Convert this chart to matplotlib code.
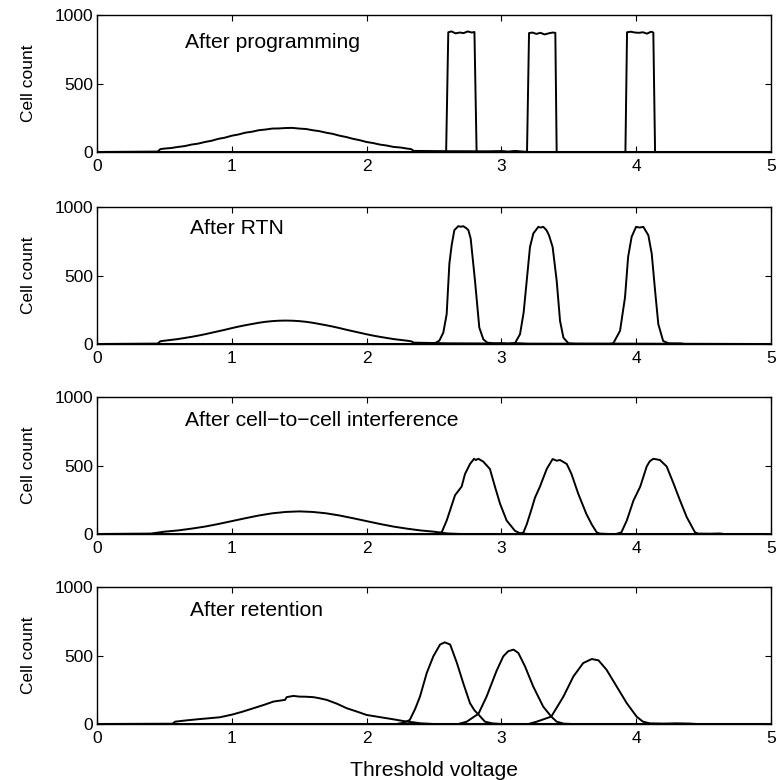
import matplotlib
matplotlib.use("Agg")
import matplotlib.pyplot as plt

plt.rcParams['font.family'] = ['Liberation Sans', 'DejaVu Sans']

# ---------------- data ----------------
titles = ["After programming", "After RTN", "After cell\u2212to\u2212cell interference", "After retention"]
xticks = [0, 1, 2, 3, 4, 5]
yticks = [0, 500, 1000]

# Panel 1: After programming
p1_s0_x = [0, 0.45, 0.47, 0.50, 0.55, 0.60, 0.65, 0.70, 0.75, 0.80, 0.85, 0.90, 0.95, 1.00, 1.05, 1.10,
           1.15, 1.20, 1.25, 1.30, 1.35, 1.40, 1.45, 1.50, 1.55, 1.60, 1.65, 1.70, 1.75, 1.80, 1.85, 1.90,
           1.95, 2.00, 2.05, 2.10, 2.15, 2.20, 2.25, 2.30, 2.33, 2.35, 2.60, 2.90, 3.00, 3.05, 3.10, 3.15, 3.20, 5.0]
p1_s0_y = [0, 3, 21, 25, 29, 37, 43, 54, 61, 73, 82, 96, 105, 119, 128, 141,
           148, 159, 164, 171, 172, 175, 176, 171, 168, 159, 152, 141, 132, 119, 109, 96,
           86, 73, 65, 54, 47, 37, 33, 25, 21, 8, 6, 5, 7, 3, 8, 4, 0, 0]
p1_s1_x = [0, 2.59, 2.606, 2.63, 2.66, 2.69, 2.72, 2.75, 2.78, 2.80, 2.816, 5]
p1_s1_y = [0, 0, 874, 880, 866, 872, 868, 880, 872, 876, 0, 0]
p1_s2_x = [0, 3.19, 3.205, 3.23, 3.26, 3.29, 3.32, 3.35, 3.38, 3.40, 3.41, 5]
p1_s2_y = [0, 0, 868, 872, 862, 870, 858, 866, 872, 870, 0, 0]
p1_s3_x = [0, 3.92, 3.932, 3.96, 3.99, 4.02, 4.05, 4.08, 4.11, 4.127, 4.14, 5]
p1_s3_y = [0, 0, 874, 878, 872, 870, 874, 864, 878, 872, 0, 0]

# Panel 2: After RTN
p2_s0_x = p1_s0_x
p2_s0_y = [0, 3, 20, 24, 30, 36, 44, 52, 61, 71, 82, 93, 104, 116, 127, 137,
           146, 155, 162, 167, 170, 171, 170, 167, 162, 155, 146, 137, 127, 116, 104, 93,
           82, 71, 61, 52, 44, 36, 30, 24, 20, 10, 5, 4, 6, 3, 6, 3, 0, 0]
p2_s1_x = [0, 2.45, 2.507, 2.54, 2.569, 2.594, 2.614, 2.631, 2.651, 2.68, 2.70, 2.717, 2.74, 2.755,
           2.772, 2.804, 2.836, 2.866, 2.895, 2.95, 5]
p2_s1_y = [0, 0, 5, 25, 83, 218, 586, 721, 831, 860, 856, 860, 845, 831,
           770, 463, 120, 34, 10, 3, 0]
p2_s2_x = [0, 3.05, 3.10, 3.138, 3.165, 3.188, 3.212, 3.237, 3.274, 3.29, 3.311, 3.335, 3.353, 3.38,
           3.41, 3.435, 3.46, 3.497, 3.55, 5]
p2_s2_y = [0, 0, 5, 71, 230, 463, 708, 807, 855, 850, 855, 830, 794, 708,
           463, 169, 46, 5, 2, 0]
p2_s3_x = [0, 3.80, 3.83, 3.88, 3.917, 3.94, 3.966, 3.999, 4.025, 4.053, 4.09, 4.115, 4.14, 4.164,
           4.20, 4.24, 4.33, 4.36, 5]
p2_s3_y = [0, 0, 5, 96, 340, 635, 782, 855, 850, 855, 794, 660, 390, 145,
           22, 5, 4, 0, 0]

# Panel 3: After cell-to-cell interference
p3_s0_x = [0, 0.40, 0.50, 0.60, 0.70, 0.80, 0.90, 1.00, 1.10, 1.20, 1.30, 1.40, 1.50, 1.60, 1.70,
           1.80, 1.90, 2.00, 2.10, 2.20, 2.30, 2.40, 2.50, 2.55, 2.60, 2.70, 5]
p3_s0_y = [0, 3, 17, 26, 39, 54, 73, 94, 115, 135, 151, 161, 165, 161, 151,
           135, 115, 94, 73, 54, 39, 26, 17, 10, 4, 0, 0]
p3_s1_x = [0, 2.50, 2.557, 2.594, 2.625, 2.656, 2.705, 2.73, 2.767, 2.797, 2.81, 2.829, 2.866, 2.915,
           2.952, 2.99, 3.039, 3.10, 3.138, 3.20, 5]
p3_s1_y = [0, 0, 12, 98, 190, 283, 346, 438, 511, 549, 540, 549, 528, 474,
           346, 221, 98, 24, 5, 0, 0]
p3_s2_x = [0, 3.12, 3.163, 3.188, 3.22, 3.249, 3.286, 3.336, 3.38, 3.41, 3.435, 3.485, 3.52, 3.57,
           3.63, 3.67, 3.707, 3.73, 3.80, 5]
p3_s2_y = [0, 0, 10, 71, 170, 265, 346, 474, 547, 535, 540, 511, 438, 294,
           147, 70, 12, 3, 0, 0]
p3_s3_x = [0, 3.85, 3.89, 3.93, 3.98, 4.03, 4.078, 4.10, 4.127, 4.15, 4.176, 4.226, 4.276, 4.325,
           4.375, 4.436, 4.46, 4.55, 4.62, 4.65, 5]
p3_s3_y = [0, 0, 12, 98, 245, 346, 493, 530, 549, 545, 540, 493, 371, 245,
           123, 12, 3, 2, 4, 0, 0]

# Panel 4: After retention
p4_s0_x = [0, 0.56, 0.58, 0.65, 0.74, 0.82, 0.91, 1.00, 1.08, 1.16, 1.24, 1.31, 1.395, 1.407, 1.457,
           1.50, 1.55, 1.605, 1.65, 1.704, 1.78, 1.853, 1.93, 2.00, 2.10, 2.20, 2.30, 2.35, 2.40, 2.50, 5]
p4_s0_y = [0, 2, 17, 25, 34, 41, 49, 68, 90, 115, 140, 164, 176, 196, 205,
           200, 199, 196, 188, 176, 148, 115, 90, 66, 50, 34, 17, 12, 5, 0, 0]
p4_s1_x = [0, 2.22, 2.27, 2.32, 2.36, 2.396, 2.446, 2.495, 2.545, 2.58, 2.62, 2.67, 2.717, 2.767,
           2.80, 2.829, 2.878, 2.93, 3.00, 5]
p4_s1_y = [0, 0, 8, 29, 110, 200, 372, 494, 580, 596, 580, 445, 298, 152,
           100, 70, 17, 5, 0, 0]
p4_s2_x = [0, 2.68, 2.743, 2.83, 2.89, 2.965, 3.014, 3.05, 3.09, 3.126, 3.175, 3.236, 3.31, 3.37,
           3.41, 3.46, 3.52, 5]
p4_s2_y = [0, 0, 17, 75, 200, 390, 494, 531, 543, 518, 421, 274, 127, 54,
           17, 3, 0, 0]
p4_s3_x = [0, 3.20, 3.262, 3.37, 3.46, 3.534, 3.607, 3.67, 3.72, 3.78, 3.855, 3.93, 4.003, 4.05,
           4.10, 4.20, 4.30, 4.40, 4.45, 5]
p4_s3_y = [0, 0, 17, 54, 200, 347, 445, 474, 465, 396, 274, 152, 54, 17,
           5, 3, 5, 3, 0, 0]

panels = [
    [(p1_s0_x, p1_s0_y), (p1_s1_x, p1_s1_y), (p1_s2_x, p1_s2_y), (p1_s3_x, p1_s3_y)],
    [(p2_s0_x, p2_s0_y), (p2_s1_x, p2_s1_y), (p2_s2_x, p2_s2_y), (p2_s3_x, p2_s3_y)],
    [(p3_s0_x, p3_s0_y), (p3_s1_x, p3_s1_y), (p3_s2_x, p3_s2_y), (p3_s3_x, p3_s3_y)],
    [(p4_s0_x, p4_s0_y), (p4_s1_x, p4_s1_y), (p4_s2_x, p4_s2_y), (p4_s3_x, p4_s3_y)],
]
label_pos = [(0.65, 800), (0.69, 840), (0.65, 825), (0.69, 825)]

# ---------------- drawing ----------------
W, H = 777, 780
fig = plt.figure(figsize=(W / 100, H / 100), dpi=100)
tops_px = [15, 207, 397, 587]
h_px = 137
left_px, right_px = 97, 771

fs_tick = 12.5
fs_text = 15.2
for i, curves in enumerate(panels):
    bottom = 1 - (tops_px[i] + h_px) / H
    ax = fig.add_axes([left_px / W, bottom, (right_px - left_px) / W, h_px / H])
    for cx, cy in curves:
        assert len(cx) == len(cy)
        ax.plot(cx, cy, color='black', lw=1.4, solid_joinstyle='round')
    ax.plot([0, 5], [0, 0], color='black', lw=2.2)
    ax.set_xlim(0, 5)
    ax.set_ylim(0, 1000)
    ax.set_xticks(xticks)
    ax.set_yticks(yticks)
    ax.tick_params(direction='in', top=True, right=True, length=4, width=0.8,
                   labelsize=fs_tick, colors='black')
    ax.tick_params(axis='x', pad=5)
    ax.tick_params(axis='y', pad=3)
    for sp in ax.spines.values():
        sp.set_linewidth(1.0)
        sp.set_color('black')
    ax.set_ylabel("Cell count", fontsize=fs_tick)
    ax.yaxis.set_label_coords(-0.09, 0.5)
    tx, ty = label_pos[i]
    ax.text(tx, ty, titles[i], fontsize=fs_text, ha='left', va='center')
    if i == 3:
        ax.set_xlabel("Threshold voltage", fontsize=fs_text, va='center')
        ax.xaxis.set_label_coords(0.5, -0.336)

fig.savefig("out.png", dpi=100)
